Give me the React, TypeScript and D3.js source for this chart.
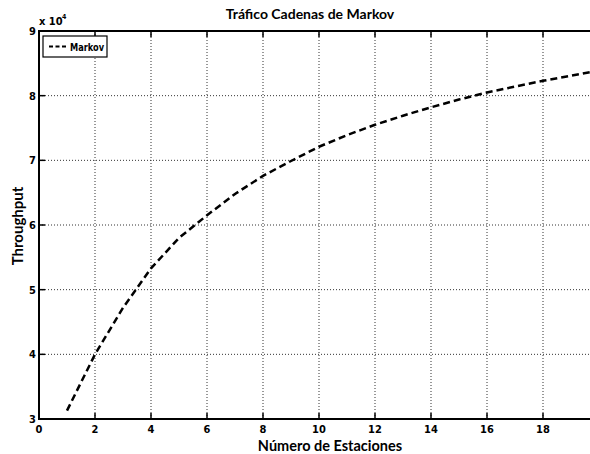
import React from "react";
import * as d3 from "d3";

const estaciones = [1, 2, 3, 4, 5, 6, 7, 8, 9, 10, 11, 12, 13, 14, 15, 16, 17, 18, 19, 20];
const markov = [31300, 40000, 47200, 53300, 58000, 61500, 64800, 67600, 69900, 72100,
  73900, 75500, 76900, 78200, 79400, 80500, 81400, 82300, 83100, 83900];
const xTicks = [0, 2, 4, 6, 8, 10, 12, 14, 16, 18, 20];
const yTicks = [3, 4, 5, 6, 7, 8, 9];

const W = 590, H = 454;
const left = 39, right = 599, top = 31, bottom = 419;
const narrow = "'DejaVu Sans Condensed', 'Liberation Sans Narrow', 'Liberation Sans', sans-serif";
const label = "Lato, 'Open Sans', sans-serif";

export default function App() {
  const x = d3.scaleLinear().domain([0, 20]).range([left, right]);
  const y = d3.scaleLinear().domain([30000, 90000]).range([bottom, top]);
  const line = d3.line<number>().x((d, i) => x(estaciones[i])).y(d => y(d));

  return (
    <svg width={W} height={H} style={{ position: "absolute", left: 0, top: 0, background: "#fff" }}>
      {/* grid */}
      <g stroke="#333" strokeWidth={1} strokeDasharray="1,2">
        {xTicks.slice(1).map(t => (
          <line key={"gx" + t} x1={x(t)} x2={x(t)} y1={top} y2={bottom} />
        ))}
        {yTicks.slice(1, -1).map(t => (
          <line key={"gy" + t} x1={left} x2={W} y1={y(t * 1e4)} y2={y(t * 1e4)} />
        ))}
      </g>
      {/* ticks */}
      <g stroke="#000" strokeWidth={1.5}>
        {xTicks.slice(1).map(t => (
          <g key={"tx" + t}>
            <line x1={x(t)} x2={x(t)} y1={bottom} y2={bottom - 6} />
            <line x1={x(t)} x2={x(t)} y1={top} y2={top + 6} />
          </g>
        ))}
        {yTicks.slice(1, -1).map(t => (
          <line key={"ty" + t} x1={left} x2={left + 6} y1={y(t * 1e4)} y2={y(t * 1e4)} />
        ))}
      </g>
      {/* frame */}
      <path d={`M${W},${top}H${left}V${bottom}H${W}`} fill="none" stroke="#000" strokeWidth={2} />
      {/* series */}
      <path d={line(markov) || ""} fill="none" stroke="#000" strokeWidth={2.5} strokeDasharray="7,4" />
      {/* tick labels */}
      <g fontFamily={narrow} fontWeight="bold" fontSize={11} fill="#000">
        {xTicks.map(t => (
          <text key={"lx" + t} x={x(t)} y={bottom + 14} textAnchor="middle">{t}</text>
        ))}
        {yTicks.map(t => (
          <text key={"ly" + t} x={left - 3} y={y(t * 1e4) + 4} textAnchor="end">{t}</text>
        ))}
        <text x={left} y={top - 6}>x 10</text>
        <text x={left + 23} y={top - 12} fontSize={7}>4</text>
      </g>
      {/* legend */}
      <rect x={43} y={36} width={64} height={21} fill="#fff" stroke="#000" strokeWidth={1.2} />
      <line x1={49} x2={68} y1={46.5} y2={46.5} stroke="#000" strokeWidth={2} strokeDasharray="4,2.5" />
      <text x={70} y={51} fontFamily={narrow} fontWeight="bold" fontSize={11} textLength={34} lengthAdjust="spacingAndGlyphs">Markov</text>
      {/* titles */}
      <text x={310} y={19} textAnchor="middle" fontFamily={label} fontWeight="bold" fontSize={14}>Tráfico Cadenas de Markov</text>
      <text x={330} y={451} textAnchor="middle" fontFamily={label} fontWeight="bold" fontSize={14.5}>Número de Estaciones</text>
      <text transform="translate(23,226) rotate(-90)" textAnchor="middle" fontFamily={label} fontWeight="bold" fontSize={15}>Throughput</text>
    </svg>
  );
}
